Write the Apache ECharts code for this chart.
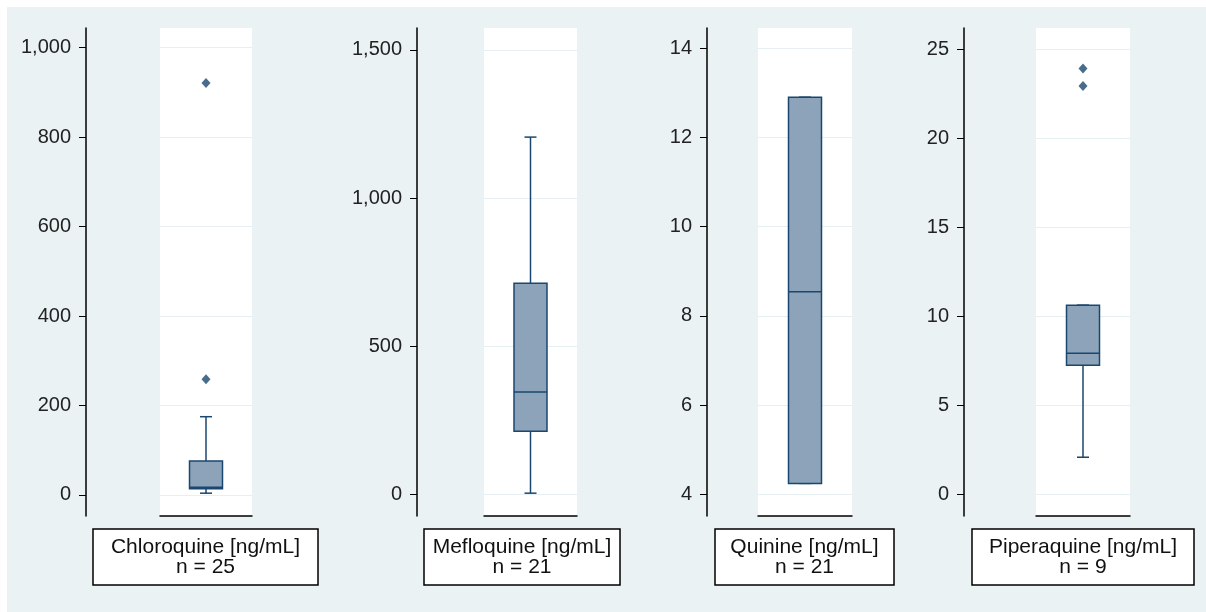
<!DOCTYPE html>
<html><head><meta charset="utf-8">
<script src="https://cdn.jsdelivr.net/npm/echarts@6/dist/echarts.min.js"></script>
<style>
html,body{margin:0;padding:0;background:#fff;}
#bg{position:absolute;left:7px;top:7px;width:1199px;height:605px;background:#EAF2F3;}
#c{position:absolute;left:0;top:0;width:1206px;height:612px;}
</style>
</head><body>
<div id="bg"></div>
<div id="c"></div>
<script>
// ---- data ----
const drugs = ['Chloroquine [ng/mL]', 'Mefloquine [ng/mL]', 'Quinine [ng/mL]', 'Piperaquine [ng/mL]'];
const counts = [25, 21, 21, 9];
// [min, q1, median, q3, max]
const chloroquineBox = [4, 14, 17, 76, 175];
const mefloquineBox = [5, 214, 346, 713, 1206];
const quinineBox = [4.25, 4.25, 8.54, 12.9, 12.9];
const piperaquineBox = [2.1, 7.26, 7.94, 10.64, 10.64];
const chloroquineOutliers = [259, 921];
const mefloquineOutliers = [];
const quinineOutliers = [];
const piperaquineOutliers = [22.94, 23.93];
const chloroquineTicks = [0, 200, 400, 600, 800, 1000];
const mefloquineTicks = [0, 500, 1000, 1500];
const quinineTicks = [4, 6, 8, 10, 12, 14];
const piperaquineTicks = [0, 5, 10, 15, 20, 25];

const boxes = [chloroquineBox, mefloquineBox, quinineBox, piperaquineBox];
const outliers = [chloroquineOutliers, mefloquineOutliers, quinineOutliers, piperaquineOutliers];
const ticks = [chloroquineTicks, mefloquineTicks, quinineTicks, piperaquineTicks];
const ranges = [[-47, 1044], [-72, 1574], [3.52, 14.45], [-1.2, 26.2]];

// ---- layout ----
const layout = [
  {axisX: 86, gl: 160, gw: 92, bl: 93, bw: 225},
  {axisX: 417, gl: 484, gw: 93, bl: 424, bw: 196},
  {axisX: 707, gl: 758, gw: 94, bl: 715, bw: 179},
  {axisX: 964, gl: 1036, gw: 94, bl: 972, bw: 222}
];
const TOP = 28, HEIGHT = 488;
const BOX_Y = 529, BOX_H = 56;
const FONT = '"Liberation Sans", Arial, sans-serif';
const NAVY = '#1a476f';

const grids = [], xAxes = [], yAxes = [], series = [], graphics = [];
layout.forEach((L, i) => {
  grids.push({left: L.gl, top: TOP, width: L.gw, height: HEIGHT, show: true,
    backgroundColor: '#ffffff', borderWidth: 0, containLabel: false});
  xAxes.push({type: 'category', gridIndex: i, data: [drugs[i]], boundaryGap: true,
    axisLine: {show: true, onZero: false, lineStyle: {color: '#000', width: 1.5}},
    axisTick: {show: false}, axisLabel: {show: false}, splitLine: {show: false}});
  yAxes.push({type: 'value', gridIndex: i, min: ranges[i][0], max: ranges[i][1],
    position: 'left', offset: L.gl - L.axisX,
    axisLine: {show: true, onZero: false, lineStyle: {color: '#000', width: 1.5}},
    axisTick: {show: true, length: 7, inside: false, customValues: ticks[i], lineStyle: {color: '#000', width: 1}},
    axisLabel: {show: true, customValues: ticks[i], margin: 15, fontSize: 20, color: '#222', fontFamily: FONT,
      formatter: v => Number(v).toLocaleString('en-US')},
    splitLine: {show: true, lineStyle: {color: '#E6EFF2', width: 1}}});
  series.push({
    type: 'custom', xAxisIndex: i, yAxisIndex: i,
    data: [[0].concat(boxes[i])],
    encode: {x: 0, y: [1, 2, 3, 4, 5]},
    renderItem: function (params, api) {
      const x = api.value(0);
      const pMin = api.coord([x, api.value(1)]);
      const pQ1 = api.coord([x, api.value(2)]);
      const pMed = api.coord([x, api.value(3)]);
      const pQ3 = api.coord([x, api.value(4)]);
      const pMax = api.coord([x, api.value(5)]);
      const cx = pMed[0], hb = 16.5, hc = 6;
      const ls = {stroke: NAVY, lineWidth: 1.5, fill: null};
      return {type: 'group', children: [
        {type: 'line', shape: {x1: cx, y1: pQ3[1], x2: cx, y2: pMax[1]}, style: ls},
        {type: 'line', shape: {x1: cx, y1: pQ1[1], x2: cx, y2: pMin[1]}, style: ls},
        {type: 'line', shape: {x1: cx - hc, y1: pMax[1], x2: cx + hc, y2: pMax[1]}, style: ls},
        {type: 'line', shape: {x1: cx - hc, y1: pMin[1], x2: cx + hc, y2: pMin[1]}, style: ls},
        {type: 'rect', shape: {x: cx - hb, y: pQ3[1], width: hb * 2, height: pQ1[1] - pQ3[1]},
          style: {fill: '#8DA3B9', stroke: NAVY, lineWidth: 1.5}},
        {type: 'line', shape: {x1: cx - hb, y1: pMed[1], x2: cx + hb, y2: pMed[1]}, style: ls}
      ]};
    }
  });
  series.push({
    type: 'scatter', xAxisIndex: i, yAxisIndex: i,
    data: outliers[i].map(v => [0, v]),
    symbol: 'diamond', symbolSize: [9, 10],
    itemStyle: {color: NAVY}, z: 5
  });
  graphics.push({type: 'rect', shape: {x: L.bl, y: BOX_Y, width: L.bw, height: BOX_H},
    style: {fill: '#ffffff', stroke: '#000', lineWidth: 1.5}});
  graphics.push({type: 'text', style: {text: drugs[i] + '\nn = ' + counts[i],
    x: L.bl + L.bw / 2, y: BOX_Y + BOX_H / 2, textAlign: 'center', textVerticalAlign: 'middle',
    font: '21px ' + FONT, lineHeight: 20, fill: '#111'}});
});

const chart = echarts.init(document.getElementById('c'), null, {renderer: 'canvas'});
chart.setOption({
  backgroundColor: 'transparent',
  animation: false,
  grid: grids, xAxis: xAxes, yAxis: yAxes, series: series,
  graphic: graphics
});
</script>
</body></html>
